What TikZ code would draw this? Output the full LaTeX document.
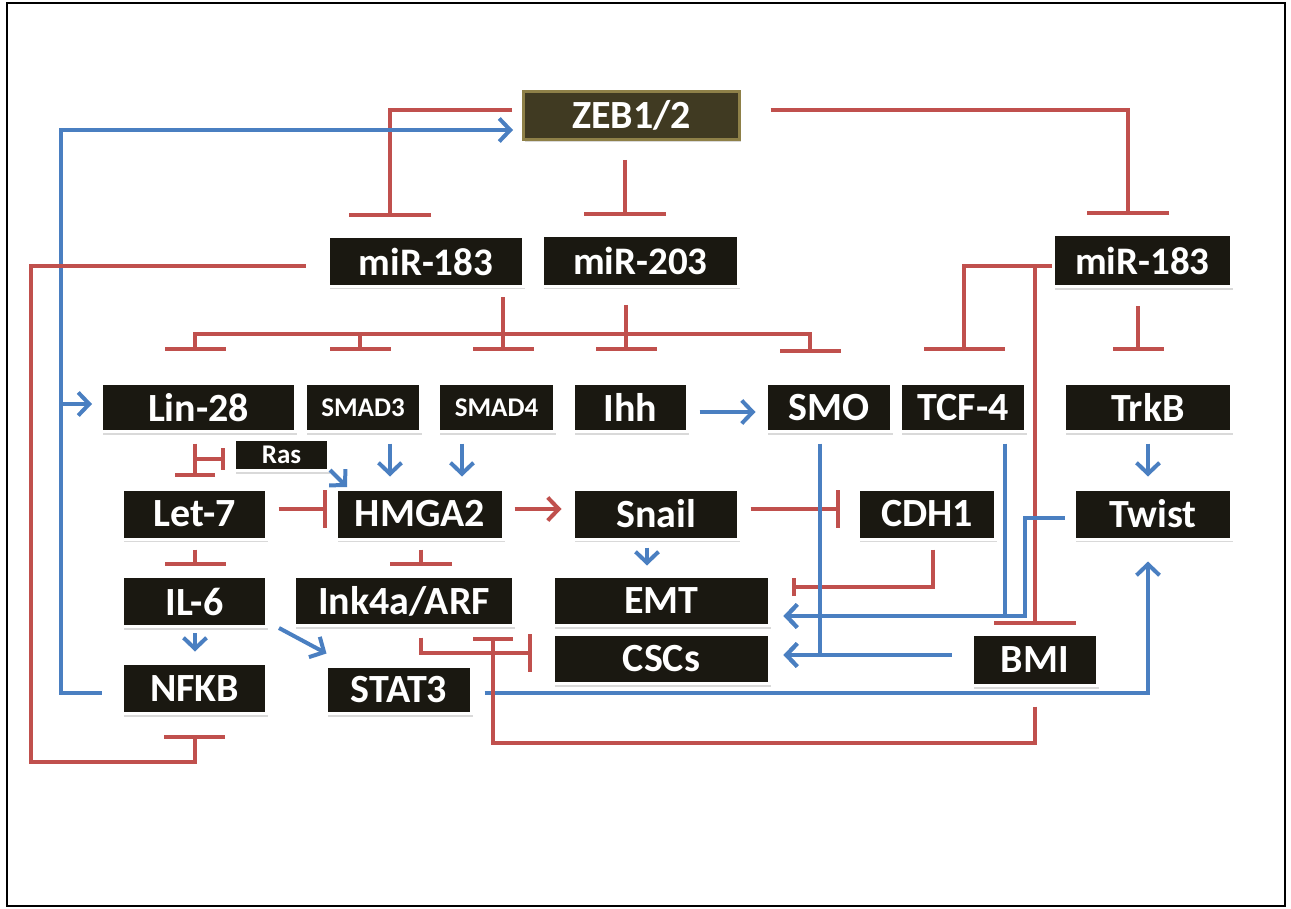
\documentclass[tikz,border=0pt]{standalone}
\usepackage{fontspec}
\setmainfont{Carlito}
\usetikzlibrary{arrows.meta,shadows}
\definecolor{myred}{HTML}{C0504D}
\definecolor{myblue}{HTML}{4A7FC1}
\definecolor{boxbg}{HTML}{1A1811}
\definecolor{zebbg}{HTML}{403A22}
\definecolor{zebfr}{HTML}{8E8048}
\tikzset{
  box/.style={fill=boxbg, draw=white, line width=3pt, text=white, inner sep=0pt,
    font=\bfseries\fontsize{40}{40}\selectfont,
    drop shadow={shadow xshift=1.5pt, shadow yshift=-3pt, opacity=0.25, fill=black!60}},
  bw/.style={minimum width=#1-3pt},
  bh/.style={minimum height=#1-3pt},
  small/.style={font=\bfseries\fontsize{27}{27}\selectfont},
  mir/.style={font=\bfseries\fontsize{39}{39}\selectfont},
  act/.style={draw=myblue, line width=4pt, -{Straight Barb[length=11pt,width=23pt]}},
  ract/.style={draw=myred, line width=4pt, -{Straight Barb[length=11pt,width=23pt]}},
  inh/.style={draw=myred, line width=4pt, -{Bar[width=#1]}},
  inh/.default=61pt,
}
\begin{document}
\begin{tikzpicture}[x=1pt,y=-1pt]
\useasboundingbox (0,0) rectangle (1291,909);
\draw[line width=2.5pt] (7,3) rectangle (1285,906);

% nodes
\node[box, fill=zebbg, draw=zebfr, bw=219, bh=51] (zeb) at (631.5,115.5) {ZEB1/2};
\node[box, mir, bw=198, bh=53] (m183a) at (426,261.5) {miR-183};
\node[box, mir, bw=199, bh=54] (m203) at (640.5,261) {miR-203};
\node[box, mir, bw=181, bh=55] (m183b) at (1142.5,261) {miR-183};

\node[box, bw=197, bh=51] (lin28) at (198.5,407.5) {Lin-28};
\node[box, small, bw=118, bh=51] (smad3) at (363,407.5) {SMAD3};
\node[box, small, bw=119, bh=51] (smad4) at (496.5,407.5) {SMAD4};
\node[box, bw=117, bh=51] (ihh) at (630.5,407.5) {Ihh};
\node[box, bw=128, bh=51] (smo) at (829,407.5) {SMO};
\node[box, bw=128, bh=51] (tcf4) at (963,407.5) {TCF-4};
\node[box, bw=170, bh=51] (trkb) at (1148,407.5) {TrkB};

\node[box, small, bw=97, bh=34] (ras) at (281.5,455) {Ras};

\node[box, bw=147, bh=53] (let7) at (194.5,514) {Let-7};
\node[box, bw=170, bh=53] (hmga2) at (420,514) {HMGA2};
\node[box, bw=168, bh=53] (snail) at (656,514) {Snail};
\node[box, bw=140, bh=53] (cdh1) at (927,514) {CDH1};
\node[box, bw=160, bh=53] (twist) at (1153,514) {Twist};

\node[box, bw=147, bh=53] (il6) at (194.5,601.5) {IL-6};
\node[box, bw=222, bh=52] (ink) at (404,601) {Ink4a/ARF};
\node[box, bw=219, bh=52] (emt) at (661.5,601) {EMT};
\node[box, bw=219, bh=52] (cscs) at (661.5,659) {CSCs};
\node[box, bw=128, bh=54] (bmi) at (1035,660) {BMI};

\node[box, bw=147, bh=53] (nfkb) at (194.5,688.5) {NFKB};
\node[box, bw=148, bh=50] (stat3) at (399,690) {STAT3};

% coordinates
\coordinate (bl) at (61,130);
\coordinate (bj) at (61,404);
\coordinate (rl) at (31,762);
\coordinate (hl) at (195,334);
\coordinate (hr) at (810,334);
\coordinate (rasj) at (195,459);
\coordinate (tw) at (1025,616);
\coordinate (bb) at (1035,743);

% ZEB inhibitions
\draw[inh=82pt] ([xshift=-10pt,yshift=5.5pt]zeb.west) -| ([xshift=-36pt,yshift=18pt]m183a.north);
\draw[inh=82pt] ([xshift=-6.5pt,yshift=-19pt]zeb.south) -- ([xshift=-15.5pt,yshift=18pt]m203.north);
\draw[inh=82pt] ([xshift=29.5pt,yshift=5.5pt]zeb.east) -| ([xshift=-14.5pt,yshift=18pt]m183b.north);

% NFKB -> ZEB, Lin-28
\draw[act] ([xshift=-19.5pt,yshift=-4.5pt]nfkb.west) -| (bl) -- ([xshift=-9pt,yshift=-14.5pt]zeb.west);
\draw[act, shorten >=8pt] (bj) -- (bj -| lin28.west);

% miR-183 (left) -| NFKB
\draw[inh] ([xshift=-21.5pt,yshift=-4.5pt]m183a.west) -| (rl) -| ([yshift=-19.5pt]nfkb.south);

% branch from miR-183 / miR-203
\draw[draw=myred, line width=4pt, {Bar[width=61pt]}-{Bar[width=61pt]}]
  ([xshift=-3.5pt,yshift=30.5pt]lin28.north) |- (hl) -- (hr) -- ++(0,19);
\draw[inh] ([xshift=-3pt]smad3.north |- hl) -- ([xshift=-3pt,yshift=30.5pt]smad3.north);
\draw[inh] ([xshift=77pt,yshift=-9.5pt]m183a.south) -- ([xshift=6.5pt,yshift=30.5pt]smad4.north);
\draw[inh] ([xshift=-14.5pt,yshift=-17pt]m203.south) -- ([xshift=-4.5pt,yshift=30.5pt]ihh.north);

% miR-183 (right)
\draw[inh=81pt] ([yshift=-5pt]m183b.west) -| ([xshift=1pt,yshift=30.5pt]tcf4.north);
\draw[inh=82pt] ([yshift=-5pt]m183b.west -| bmi.north) -- ([yshift=8.5pt]bmi.north);
\draw[inh=51pt] ([xshift=-4.5pt,yshift=-18pt]m183b.south) -- ([xshift=-10pt,yshift=30.5pt]trkb.north);

% Lin-28 / Ras / Let-7
\draw[inh=40pt] ([xshift=-3.5pt,yshift=-10.5pt]lin28.south) -- ([xshift=0.5pt,yshift=11pt]let7.north);
\draw[inh=22pt] (rasj) -- ([xshift=-8.5pt,yshift=-4pt]ras.west);
\draw[act] ([yshift=2pt]ras.south east) -- ([xshift=12pt,yshift=0.5pt]hmga2.north west);
\draw[act] ([xshift=27pt,yshift=-10.5pt]smad3.south) -- ([xshift=-30pt,yshift=11pt]hmga2.north);
\draw[act] ([xshift=-34.5pt,yshift=-10.5pt]smad4.south) -- ([xshift=42pt,yshift=11pt]hmga2.north);

% row 3
\draw[inh=38pt] ([xshift=10.5pt,yshift=5pt]let7.east) -- ([xshift=-8.5pt,yshift=5pt]hmga2.west);
\draw[ract] ([xshift=9.5pt,yshift=5pt]hmga2.east) -- ([xshift=-10.5pt,yshift=5pt]snail.west);
\draw[act] ([xshift=10.5pt,yshift=-4.5pt]ihh.east) -- ([xshift=-9.5pt,yshift=-4.5pt]smo.west);
\draw[inh=38pt] ([xshift=10.5pt,yshift=5pt]snail.east) -- ([xshift=-17.5pt,yshift=5pt]cdh1.west);
\draw[act] ([xshift=-9pt,yshift=-7pt]snail.south) -- ([xshift=-14.5pt,yshift=9.5pt]emt.north);
\draw[inh=18pt] ([xshift=6pt,yshift=-9pt]cdh1.south) |- ([xshift=20.5pt,yshift=14pt]emt.east);

% to CSCs / EMT
\draw[act] ([xshift=-9pt,yshift=-10.5pt]smo.south) |- ([xshift=12.5pt,yshift=4pt]cscs.east);
\draw[act] ([xshift=-19.5pt,yshift=5pt]bmi.west) -- ([xshift=12.5pt,yshift=4pt]cscs.east);
\draw[act] ([xshift=42pt,yshift=-10.5pt]tcf4.south) |- ([xshift=12.5pt,yshift=-15pt]emt.east);
\draw[act] ([xshift=-8.5pt,yshift=-4pt]twist.west) -| (tw) -- ([xshift=12.5pt,yshift=-15pt]emt.east);
\draw[act] ([xshift=0pt,yshift=-10.5pt]trkb.south) -- ([xshift=-5pt,yshift=11pt]twist.north);
\draw[act] ([xshift=11.5pt,yshift=-3pt]stat3.east) -| ([xshift=-5pt,yshift=-21pt]twist.south);

% IL-6 etc.
\draw[act] ([xshift=0.5pt,yshift=-5pt]il6.south) -- ([xshift=0.5pt,yshift=10.5pt]nfkb.north);
\draw[act] ([xshift=11pt]il6.south east) -- ([xshift=1.5pt,yshift=11.5pt]stat3.north west);
\draw[inh] ([xshift=0.5pt,yshift=-9pt]let7.south) -- ([xshift=0.5pt,yshift=9.5pt]il6.north);
\draw[inh=62pt] ([xshift=1pt,yshift=-9pt]hmga2.south) -- ([xshift=17pt,yshift=9pt]ink.north);
\draw[inh=38pt] ([xshift=17pt,yshift=-10.5pt]ink.south) |- ([xshift=-20.5pt,yshift=6pt]cscs.west);
\draw[inh=40pt] ([yshift=-19.5pt]bmi.south) -- (bb) -| ([xshift=89pt,yshift=-9.5pt]ink.south);
\end{tikzpicture}
\end{document}
